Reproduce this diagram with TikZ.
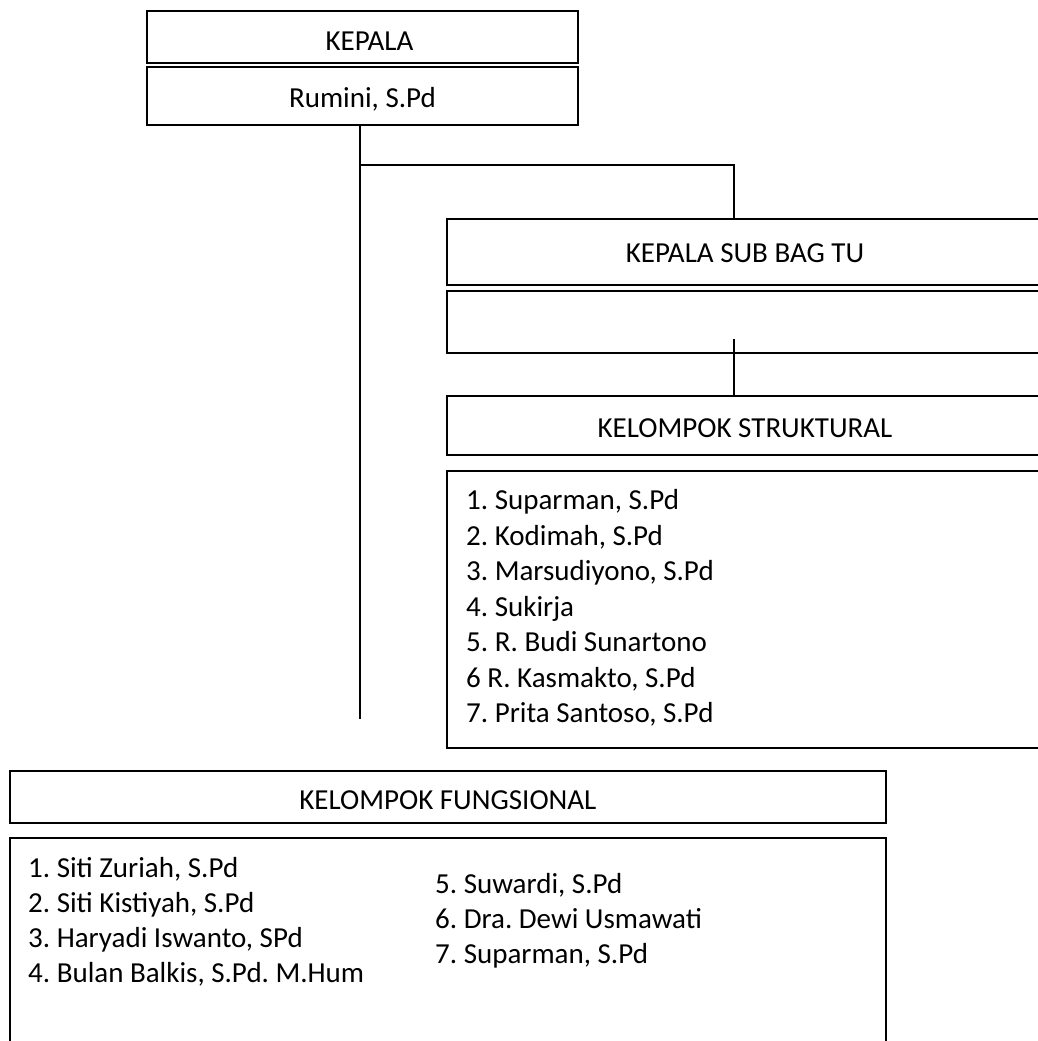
\documentclass[tikz,border=0pt]{standalone}
\usepackage{fontspec}
\setmainfont{Carlito}
\begin{document}
\frenchspacing
\begin{tikzpicture}[x=1pt,y=-1pt,
  every node/.style={font=\fontsize{29}{35}\selectfont\frenchspacing},
  box/.style={draw=black, line width=1.9pt, inner sep=0pt, text depth=0pt},
  item/.style={inner sep=0pt, anchor=base west},
  link/.style={draw=black, line width=1.9pt}]
\clip (0,0) rectangle (1038,1041);
% top boxes
\node[box, minimum width=431pt, minimum height=52pt, text height=28pt] (kepala) at (362.5,37) {\hspace*{14pt}KEPALA};
\node[box, minimum width=431pt, minimum height=58pt, text height=22pt] (rumini) at (362.5,96) {Rumini, S.Pd};
% right branch
\node[box, minimum width=596pt, minimum height=66pt, text height=20pt] (subbag) at (745,252) {KEPALA SUB BAG TU};
\node[box, minimum width=596pt, minimum height=62pt] (empty) at (745,322) {};
\node[box, minimum width=596pt, minimum height=59pt, text height=24pt] (struk) at (745,425.5) {KELOMPOK STRUKTURAL};
\node[box, minimum width=596pt, minimum height=277pt] (struklist) at (745,609.5) {};
% bottom
\node[box, minimum width=875.7pt, minimum height=52pt, text height=24pt] (fung) at (447.85,797) {KELOMPOK FUNGSIONAL};
\node[box, minimum width=875.7pt, minimum height=210pt] (funglist) at (447.85,943) {};
% connectors
\coordinate (trunkEnd) at (360,719);
\coordinate (elbow) at (734,165);
\coordinate (linkTop) at (734,339);
\draw[link] (trunkEnd |- rumini.south) -- (trunkEnd);
\draw[link] (trunkEnd |- elbow) -- (elbow) -- (elbow |- subbag.north);
\draw[link] (linkTop) -- (linkTop |- struk.north);
% structural list
\node[item] (s1) at (466,509.5) {1. Suparman, S.Pd};
\node[item] (s2) at (466,545) {2. Kodimah, S.Pd};
\node[item] (s3) at (466,580.5) {3. Marsudiyono, S.Pd};
\node[item] (s4) at (466,616) {4. Sukirja};
\node[item] (s5) at (466,651.5) {5. R. Budi Sunartono};
\node[item] (s6) at (466,687) {6 R. Kasmakto, S.Pd};
\node[item] (s7) at (466,722.5) {7. Prita Santoso, S.Pd};
% functional list
\node[item] (f1) at (28,877) {1. Siti Zuriah, S.Pd};
\node[item] (f2) at (28,912) {2. Siti Kistiyah, S.Pd};
\node[item] (f3) at (28,947) {3. Haryadi Iswanto, SPd};
\node[item] (f4) at (28,982.5) {4. Bulan Balkis, S.Pd. M.Hum};
\node[item] (f5) at (435,893) {5. Suwardi, S.Pd};
\node[item] (f6) at (435,928) {6. Dra. Dewi Usmawati};
\node[item] (f7) at (435,963) {7. Suparman, S.Pd};
\end{tikzpicture}
\end{document}
